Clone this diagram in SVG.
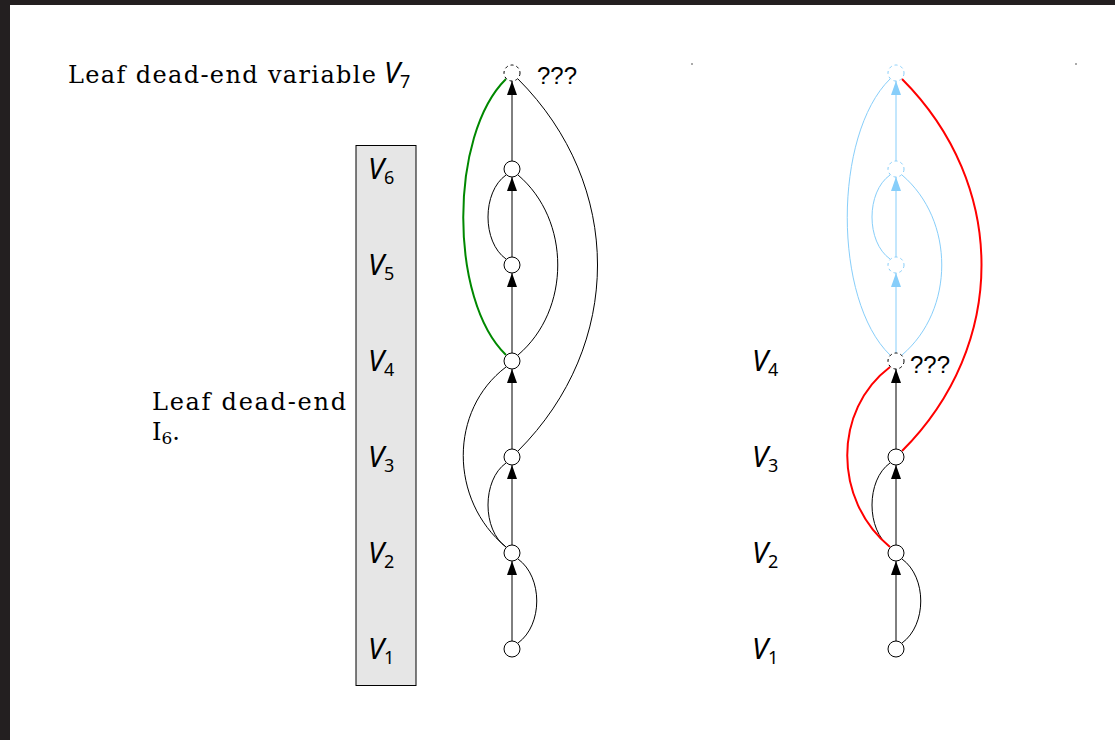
<svg xmlns="http://www.w3.org/2000/svg" width="1115" height="740" viewBox="0 0 1115 740">
<style>
.lbl{font-family:"DejaVu Serif","Liberation Serif",serif;font-size:24px;fill:#000}
.v{font-family:"Noto Sans","DejaVu Sans",sans-serif;font-style:italic;font-size:29px;fill:#000}
.sub{font-size:18px;font-style:normal}
.q{font-family:"Liberation Sans","Arial",sans-serif;font-size:24px;fill:#000}
.n{fill:#fff;stroke:#000;stroke-width:1}
.nd{fill:#fff;stroke:#000;stroke-width:1;stroke-dasharray:3 3}
.nb{fill:#fff;stroke:#87cefa;stroke-width:1;stroke-dasharray:3 3}
.e{fill:none;stroke:#000;stroke-width:1}
.eb{fill:none;stroke:#87cefa;stroke-width:1}
.er{fill:none;stroke:#ff0000;stroke-width:2}
.eg{fill:none;stroke:#008800;stroke-width:2}
.a{marker-end:url(#ak)}
.ab{marker-end:url(#ab)}
</style>
<defs>
<marker id="ak" markerUnits="userSpaceOnUse" markerWidth="16" markerHeight="12" viewBox="-15 -6 16 12" refX="0" refY="0" orient="auto">
<path d="M0,0 L-14,-5 L-14,5 Z" fill="#000"/>
</marker>
<marker id="ab" markerUnits="userSpaceOnUse" markerWidth="16" markerHeight="12" viewBox="-15 -6 16 12" refX="0" refY="0" orient="auto">
<path d="M0,0 L-14,-5 L-14,5 Z" fill="#87cefa"/>
</marker>
</defs>
<rect x="0" y="0" width="1115" height="740" fill="#231f20"/>
<rect x="10" y="5" width="1105" height="735" fill="#fff"/>
<rect x="691" y="63" width="2" height="2" fill="#aaa"/>
<rect x="1075" y="63" width="2" height="2" fill="#aaa"/>

<g id="title">
<text class="lbl" x="68" y="83" textLength="308" lengthAdjust="spacing">Leaf dead-end variable</text>
<text class="v" x="384" y="83">V<tspan class="sub" dy="5">7</tspan></text>
</g>
<g id="note">
<text class="lbl" x="152" y="410" textLength="194" lengthAdjust="spacing">Leaf dead-end</text>
<text class="lbl" x="152" y="440">I<tspan font-size="17" dy="4">6</tspan><tspan dy="-4">.</tspan></text>
</g>
<g id="box">
<rect x="356" y="145.5" width="60" height="540" fill="#e6e6e6" stroke="#000" stroke-width="1"/>
<text class="v" x="368" y="179">V<tspan class="sub" dy="5">6</tspan></text>
<text class="v" x="368" y="275">V<tspan class="sub" dy="5">5</tspan></text>
<text class="v" x="368" y="371">V<tspan class="sub" dy="5">4</tspan></text>
<text class="v" x="368" y="467">V<tspan class="sub" dy="5">3</tspan></text>
<text class="v" x="368" y="563">V<tspan class="sub" dy="5">2</tspan></text>
<text class="v" x="368" y="659">V<tspan class="sub" dy="5">1</tspan></text>
</g>
<g id="right-labels">
<text class="v" x="752" y="371">V<tspan class="sub" dy="5">4</tspan></text>
<text class="v" x="752" y="467">V<tspan class="sub" dy="5">3</tspan></text>
<text class="v" x="752" y="563">V<tspan class="sub" dy="5">2</tspan></text>
<text class="v" x="752" y="659">V<tspan class="sub" dy="5">1</tspan></text>
</g>

<g id="connectors">
<path class="e a" d="M512,641 L512,561"/>
<path class="e a" d="M512,545 L512,465"/>
<path class="e a" d="M512,449 L512,369"/>
<path class="e a" d="M512,353 L512,273"/>
<path class="e a" d="M512,257 L512,177"/>
<path class="e a" d="M512,161 L512,81"/>
<path class="e" d="M518,643 C543,625 543,577 518,559"/>
<path class="e" d="M506,547 C482,530 482,480 506,463"/>
<path class="e" d="M506,547 C449,500 449,410 506,367"/>
<path class="e" d="M518,451 C624,345 624,185 518,79"/>
<path class="e" d="M518,355 C571,310 571,220 518,175"/>
<path class="e" d="M506,259 C482,242 482,192 506,175"/>
<path class="eg" d="M506,355 C449,300 449,135 506,79"/>
<path class="e a" d="M896,641 L896,561"/>
<path class="e a" d="M896,545 L896,465"/>
<path class="e a" d="M896,449 L896,369"/>
<path class="eb ab" d="M896,353 L896,273"/>
<path class="eb ab" d="M896,257 L896,177"/>
<path class="eb ab" d="M896,161 L896,81"/>
<path class="e" d="M902,643 C927,625 927,577 902,559"/>
<path class="e" d="M890,547 C866,530 866,480 890,463"/>
<path class="eb" d="M902,355 C955,310 955,220 902,175"/>
<path class="eb" d="M890,259 C866,242 866,192 890,175"/>
<path class="eb" d="M890,355 C833,300 833,135 890,79"/>
<path class="er" d="M890,547 C833,500 833,410 890,367"/>
<path class="er" d="M902,451 C1008,345 1008,185 902,79"/>
</g>

<g id="L7"><circle class="nd" cx="512" cy="73" r="8"/><text class="q" x="537" y="84">???</text></g>
<g id="L6"><circle class="n" cx="512" cy="169" r="8"/></g>
<g id="L5"><circle class="n" cx="512" cy="265" r="8"/></g>
<g id="L4"><circle class="n" cx="512" cy="361" r="8"/></g>
<g id="L3"><circle class="n" cx="512" cy="457" r="8"/></g>
<g id="L2"><circle class="n" cx="512" cy="553" r="8"/></g>
<g id="L1"><circle class="n" cx="512" cy="649" r="8"/></g>

<g id="R7"><circle class="nb" cx="896" cy="73" r="8"/></g>
<g id="R6"><circle class="nb" cx="896" cy="169" r="8"/></g>
<g id="R5"><circle class="nb" cx="896" cy="265" r="8"/></g>
<g id="R4"><circle class="nd" cx="896" cy="361" r="8"/><text class="q" x="910" y="373">???</text></g>
<g id="R3"><circle class="n" cx="896" cy="457" r="8"/></g>
<g id="R2"><circle class="n" cx="896" cy="553" r="8"/></g>
<g id="R1"><circle class="n" cx="896" cy="649" r="8"/></g>
</svg>
